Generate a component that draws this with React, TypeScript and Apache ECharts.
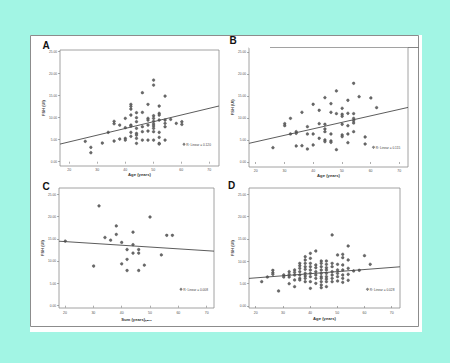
import React, { useEffect, useRef } from "react";
import * as echarts from "echarts";

// ---------- data ----------
const xTicks = [20, 30, 40, 50, 60, 70];
const yTicks = [0, 5, 10, 15, 20, 25];
const panelLetters = ["A", "B", "C", "D"];
const xNames = ["Age (years)", "Age (years)", "Sum (years)ₙ₌₁₀", "Age (years)"];
const yName = "FSH (UI)";
const r2Labels = ["R² Linear = 0.120", "R² Linear = 0.115", "R² Linear = 0.008", "R² Linear = 0.028"];

const pointsA: number[][] = [
  [25.7, 4.62], [27.7, 3.26], [27.7, 2.05], [31.8, 4.24], [33.9, 6.67],
  [36.0, 9.17], [36.0, 8.64], [36.0, 4.7], [38.0, 8.33], [38.0, 5.15],
  [40.0, 9.85], [40.0, 7.73], [40.0, 5.3], [40.0, 4.92],
  [42.0, 13.03], [42.0, 12.58], [42.0, 11.97], [42.0, 10.61], [42.0, 8.33], [42.0, 8.11], [42.0, 6.67], [42.0, 5.76],
  [44.0, 11.14], [44.0, 10.0], [44.0, 9.09], [44.0, 7.58], [44.0, 6.44], [44.0, 6.06], [44.0, 5.3], [44.0, 4.17],
  [46.1, 15.68], [46.1, 11.21], [46.1, 7.95], [46.1, 6.82], [46.1, 4.92],
  [48.1, 13.03], [48.1, 9.85], [48.1, 9.47], [48.1, 8.33], [48.1, 6.97], [48.1, 4.92],
  [50.1, 18.56], [50.1, 17.42], [50.1, 10.45], [50.1, 9.85], [50.1, 9.17], [50.1, 8.56], [50.1, 8.11], [50.1, 7.58], [50.1, 6.82], [50.1, 4.92],
  [52.1, 12.65], [52.1, 10.98], [52.1, 10.61], [52.1, 9.47], [52.1, 6.67], [52.1, 5.53], [52.1, 4.17], [52.1, 4.02],
  [54.2, 14.92], [54.2, 9.47], [54.2, 8.71], [54.2, 7.95], [54.2, 4.92],
  [56.2, 9.62], [58.2, 8.71], [60.2, 9.09], [60.2, 8.48],
];
const pointsB: number[][] = [
  [26.0, 3.27], [30.1, 8.74], [30.1, 8.28], [32.1, 9.95], [32.1, 6.38],
  [34.1, 6.91], [34.1, 6.53], [34.1, 3.65], [36.1, 11.32], [36.1, 3.72],
  [38.0, 8.05], [38.0, 6.38], [38.0, 2.96], [40.0, 13.15], [40.0, 6.38], [40.0, 3.88],
  [42.1, 11.78], [42.1, 8.74], [42.1, 5.4],
  [44.1, 14.67], [44.1, 8.59], [44.1, 7.52], [44.1, 6.91], [44.1, 5.02], [44.1, 4.64],
  [46.2, 13.3], [46.2, 11.32], [46.2, 6.38], [46.2, 4.79], [46.2, 4.48],
  [48.1, 16.19], [48.1, 11.02], [48.1, 2.81],
  [50.1, 12.23], [50.1, 10.87], [50.1, 10.41], [50.1, 8.59], [50.1, 6.16], [50.1, 5.78],
  [52.1, 14.06], [52.1, 11.09], [52.1, 8.28], [52.1, 6.38], [52.1, 4.41],
  [54.1, 17.93], [54.1, 11.02], [54.1, 9.95], [54.1, 9.42], [54.1, 8.89], [54.1, 6.91],
  [56.0, 14.89], [58.1, 5.7], [58.1, 4.1], [60.1, 14.59], [62.1, 12.39],
];
const pointsC: number[][] = [
  [20.1, 14.5], [30.1, 8.9], [32.0, 22.4], [34.1, 15.3], [36.1, 14.7],
  [38.1, 17.9], [38.1, 16.0], [40.0, 14.2], [40.0, 9.4],
  [41.9, 12.6], [41.9, 10.4], [41.9, 7.9],
  [44.0, 16.5], [44.0, 13.7], [44.0, 11.8],
  [46.0, 12.6], [46.0, 11.8], [46.0, 7.9], [48.0, 9.1], [50.0, 19.9],
  [54.0, 11.4], [55.9, 15.8], [57.9, 15.8],
];
const pointsD: number[][] = [
  [22.2, 5.45], [24.3, 6.49], [26.3, 7.99], [26.3, 7.46], [26.3, 7.09], [28.4, 3.36],
  [30.3, 6.94], [30.3, 6.49],
  [32.3, 7.69], [32.3, 7.09], [32.3, 6.49], [32.3, 5.0],
  [34.3, 8.06], [34.3, 7.54], [34.3, 6.94], [34.3, 5.82], [34.3, 4.33],
  [36.2, 9.55], [36.2, 9.03], [36.2, 8.43], [36.2, 7.69], [36.2, 6.94], [36.2, 6.19], [36.2, 5.82],
  [38.2, 11.04], [38.2, 10.3], [38.2, 9.55], [38.2, 8.81], [38.2, 8.21], [38.2, 7.31], [38.2, 6.72], [38.2, 6.19], [38.2, 5.45],
  [40.1, 11.79], [40.1, 10.67], [40.1, 9.55], [40.1, 8.81], [40.1, 8.06], [40.1, 7.31], [40.1, 6.57], [40.1, 5.45], [40.1, 3.96],
  [42.1, 12.31], [42.1, 9.18], [42.1, 8.58], [42.1, 7.69], [42.1, 6.94], [42.1, 6.19], [42.1, 5.07],
  [44.1, 10.07], [44.1, 9.55], [44.1, 8.81], [44.1, 8.06], [44.1, 7.31], [44.1, 6.57], [44.1, 6.19], [44.1, 5.45], [44.1, 4.7], [44.1, 4.1],
  [46.0, 10.07], [46.0, 9.33], [46.0, 8.58], [46.0, 8.06], [46.0, 7.31], [46.0, 6.57], [46.0, 6.04], [46.0, 5.45], [46.0, 4.33],
  [48.1, 15.9], [48.1, 9.55], [48.1, 8.81], [48.1, 7.69], [48.1, 6.94], [48.1, 6.19], [48.1, 5.45],
  [50.1, 11.42], [50.1, 9.33], [50.1, 8.06], [50.1, 7.31], [50.1, 6.57], [50.1, 5.6],
  [52.0, 11.57], [52.0, 10.82], [52.0, 9.18], [52.0, 8.06], [52.0, 6.94], [52.0, 6.19], [52.0, 5.3],
  [54.0, 13.43], [54.0, 10.3], [54.0, 8.43], [54.0, 7.09], [54.0, 5.75],
  [56.0, 7.84], [58.1, 7.99], [60.0, 11.27], [62.1, 9.33],
];
const fitA: number[][] = [[16.68, 4.0], [73.46, 12.66]];
const fitB: number[][] = [[17.66, 4.25], [73.03, 12.43]];
const fitC: number[][] = [[17.88, 14.47], [72.58, 12.24]];
const fitD: number[][] = [[17.53, 6.18], [73.06, 8.77]];

// ---------- layout ----------
const FONT = "Liberation Sans";
const grids = [
  { left: 60, top: 50, width: 159, height: 116 },
  { left: 249, top: 47.5, width: 159, height: 119.5 },
  { left: 59, top: 188, width: 155, height: 120 },
  { left: 249, top: 188, width: 151, height: 120 },
];
const xRanges = [[16.68, 73.46], [17.66, 73.03], [17.88, 72.58], [17.53, 73.06]];
const yRanges = [[-0.98, 25.39], [-1.14, 26.08], [-0.52, 26.41], [-0.45, 26.41]];
const xLabelMargin = [1.5, 2, 2.5, 2.5];
const xNameGap = [5, 6, 9, 8.5];
const yNameGap = [14, 13, 13, 13];
const letterPos = [[46, 45], [233, 40], [46, 186.5], [231.5, 185.5]];
const legendPos = [[184, 144.3], [373.5, 147.3], [181, 289.3], [367.5, 289.3]];

export default function App() {
  const ref = useRef<HTMLDivElement>(null);
  useEffect(() => {
    if (!ref.current) return;
    document.body.style.margin = "0";
    const chart = echarts.init(ref.current, undefined, { renderer: "svg", width: 450, height: 363 });
    const pts = [pointsA, pointsB, pointsC, pointsD];
    const fits = [fitA, fitB, fitC, fitD];

    const xAxis = grids.map((_, i) => ({
      gridIndex: i,
      type: "value",
      min: xRanges[i][0],
      max: xRanges[i][1],
      axisLine: { show: false },
      axisTick: { show: true, length: 2, customValues: xTicks, lineStyle: { color: "#777", width: 0.6 } },
      axisLabel: {
        customValues: xTicks,
        fontSize: 3.5,
        margin: xLabelMargin[i],
        color: "#555",
        fontFamily: FONT,
      },
      splitLine: { show: false },
      name: xNames[i],
      nameLocation: "middle",
      nameGap: xNameGap[i],
      nameTextStyle: { fontSize: 4.2, fontWeight: "bold", color: "#333", fontFamily: FONT },
    }));
    const yAxis = grids.map((_, i) => ({
      gridIndex: i,
      type: "value",
      min: yRanges[i][0],
      max: yRanges[i][1],
      axisLine: { show: false },
      axisTick: { show: true, length: 2, customValues: yTicks, lineStyle: { color: "#777", width: 0.6 } },
      axisLabel: {
        customValues: yTicks,
        fontSize: 3.2,
        margin: 3,
        color: "#555",
        fontFamily: FONT,
        formatter: (v: number) => v.toFixed(2),
      },
      splitLine: { show: false },
      name: yName,
      nameLocation: "middle",
      nameGap: yNameGap[i],
      nameRotate: 90,
      nameTextStyle: { fontSize: 4, fontWeight: "bold", color: "#333", fontFamily: FONT },
    }));

    const series: any[] = [];
    pts.forEach((p, i) => {
      series.push({
        type: "scatter",
        xAxisIndex: i,
        yAxisIndex: i,
        data: p,
        symbol: "circle",
        symbolSize: 2.7,
        itemStyle: { color: "#6a6a6a", borderColor: "#444", borderWidth: 0.4, opacity: 1 },
        z: 3,
      });
      series.push({
        type: "line",
        xAxisIndex: i,
        yAxisIndex: i,
        data: fits[i],
        symbol: "none",
        lineStyle: { color: "#4a4a4a", width: 0.9 },
        z: 4,
      });
    });

    const graphic: any[] = [
      { type: "rect", z: -100, shape: { x: 30, y: 35, width: 392, height: 297 }, style: { fill: "#ffffff" } },
      { type: "rect", z: -99, shape: { x: 30.5, y: 35.5, width: 388, height: 291 }, style: { fill: "none", stroke: "#8c8c8c", lineWidth: 1 } },
      // stray frame line above panel B
      { type: "line", z: 50, shape: { x1: 249, y1: 47.5, x2: 270, y2: 47.5 }, style: { stroke: "#ffffff", lineWidth: 1.4 } },
      { type: "line", z: 50, shape: { x1: 408, y1: 47.5, x2: 418.5, y2: 47.5 }, style: { stroke: "#666", lineWidth: 0.8 } },
    ];
    panelLetters.forEach((L, i) => {
      graphic.push({
        type: "text",
        x: letterPos[i][0],
        y: letterPos[i][1],
        z: 50,
        style: { text: L, fontSize: 10, fontWeight: "bold", fontFamily: FONT, fill: "#111", align: "center", verticalAlign: "middle" },
      });
      graphic.push({
        type: "circle",
        z: 50,
        shape: { cx: legendPos[i][0], cy: legendPos[i][1], r: 1.1 },
        style: { fill: "#888", stroke: "#444", lineWidth: 0.4 },
      });
      graphic.push({
        type: "text",
        x: legendPos[i][0] + 2.2,
        y: legendPos[i][1],
        z: 50,
        style: { text: r2Labels[i], fontSize: 3.2, fontFamily: FONT, fill: "#444", align: "left", verticalAlign: "middle" },
      });
    });

    chart.setOption({
      animation: false,
      backgroundColor: "#a2f5e4",
      grid: grids.map((g) => ({ ...g, show: true, borderColor: "#8a8a8a", borderWidth: 0.8, backgroundColor: "transparent", containLabel: false })),
      xAxis,
      yAxis,
      series,
      graphic,
    });
    return () => chart.dispose();
  }, []);
  return <div ref={ref} style={{ position: "fixed", left: 0, top: 0, width: 450, height: 363 }} />;
}
